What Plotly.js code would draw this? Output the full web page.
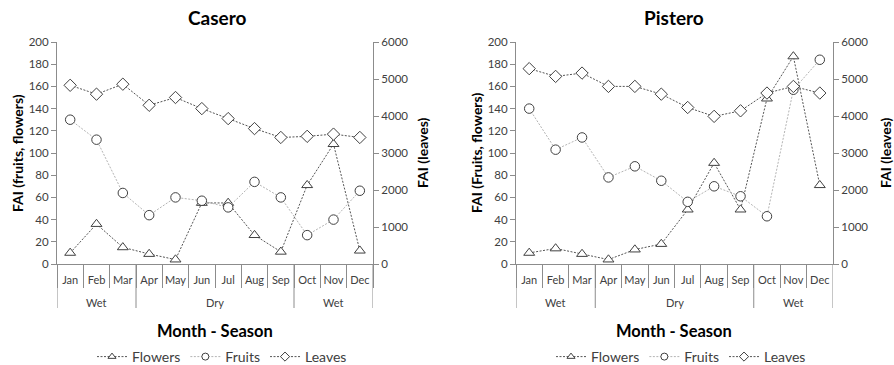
<!DOCTYPE html>
<html>
<head>
<meta charset="utf-8">
<script src="https://cdn.plot.ly/plotly-3.0.1.min.js"></script>
<style>html,body{margin:0;padding:0;background:#fff;}#chart{width:894px;height:365px;}</style>
</head>
<body>
<div id="chart"></div>
<script>
// ---- data ----
const months = ["Jan","Feb","Mar","Apr","May","Jun","Jul","Aug","Sep","Oct","Nov","Dec"];
const seasons = ["Wet","Wet","Wet","Dry","Dry","Dry","Dry","Dry","Dry","Wet","Wet","Wet"];
const seriesNames = ["Flowers", "Fruits", "Leaves"];

const caseroFlowers = [10, 36, 15, 9, 4, 55, 55, 26, 11, 71, 108, 12];
const caseroFruits  = [130, 112, 64, 44, 60, 57, 51, 74, 60, 26, 40, 66];
const caseroLeaves  = [4830, 4590, 4860, 4290, 4500, 4200, 3930, 3660, 3420, 3450, 3510, 3420];

const pisteroFlowers = [10, 14, 9, 4, 13, 18, 49, 91, 49, 149, 187, 71];
const pisteroFruits  = [140, 103, 114, 78, 88, 75, 56, 70, 61, 43, 157, 184];
const pisteroLeaves  = [5280, 5070, 5160, 4800, 4800, 4590, 4230, 3990, 4140, 4620, 4800, 4620];

const FONT = "Lato, 'Liberation Sans', sans-serif";
const dark = "#404040", axisCol = "#8c8c8c";
const styles = {
  Flowers: {color: "#555555", symbol: "triangle-up"},
  Fruits:  {color: "#b4b4b4", symbol: "circle"},
  Leaves:  {color: "#555555", symbol: "diamond"}
};

function series(name, y, xa, ya) {
  const s = styles[name];
  return {
    type: "scatter", mode: "lines+markers", name: name, showlegend: false,
    x: months, y: y, xaxis: xa, yaxis: ya,
    line: {color: s.color, width: 1, dash: "2px,1.5px"},
    marker: {symbol: s.symbol, size: 9.5, color: "#ffffff", line: {color: dark, width: 1}},
    cliponaxis: false
  };
}
// legend-only entries (no data points) with small legend symbols
function legendEntry(name, xa, ya, legend) {
  const s = styles[name];
  return {
    type: "scatter", mode: "lines+markers", name: name, legend: legend,
    x: [null], y: [null], xaxis: xa, yaxis: ya,
    line: {color: s.color, width: 1, dash: "2px,1.5px"},
    marker: {symbol: s.symbol, size: 7, color: "#ffffff", line: {color: dark, width: 1}}
  };
}

const data = [
  series("Flowers", caseroFlowers, "x", "y"),
  series("Fruits", caseroFruits, "x", "y"),
  series("Leaves", caseroLeaves, "x", "y2"),
  series("Flowers", pisteroFlowers, "x2", "y3"),
  series("Fruits", pisteroFruits, "x2", "y3"),
  series("Leaves", pisteroLeaves, "x2", "y4")
];
seriesNames.forEach(n => data.push(legendEntry(n, "x", "y", "legend")));
seriesNames.forEach(n => data.push(legendEntry(n, "x2", "y3", "legend2")));

const W = 894, H = 365;
const axisY = 264, topY = 42;
const yDom = [(H - axisY) / H, (H - topY) / H];
const xDomL = [57 / W, 373 / W];
const xDomR = [516 / W, 833 / W];

function xAxis(dom, anchor) {
  return {
    type: "category", domain: dom, anchor: anchor, automargin: false,
    range: [-0.5, months.length - 0.5],
    showline: true, linecolor: axisCol, linewidth: 1,
    ticks: "outside", ticklen: 23, tickcolor: axisCol, tickson: "boundaries",
    tickangle: 0, ticklabelstandoff: 6,
    tickfont: {family: FONT, size: 11, color: dark},
    showgrid: false, zeroline: false
  };
}
function yLeft(dom, anchor) {
  return {
    domain: dom, anchor: anchor, range: [0, 200], dtick: 20, automargin: false,
    showline: true, linecolor: axisCol, ticks: "outside", ticklen: 5, tickcolor: axisCol,
    tickfont: {family: FONT, size: 11.5, color: dark},
    showgrid: false, zeroline: false
  };
}
function yRight(overlay, anchor) {
  return {
    overlaying: overlay, anchor: anchor, side: "right", range: [0, 6000], dtick: 1000, automargin: false,
    showline: true, linecolor: axisCol, ticks: "outside", ticklen: 5, tickcolor: axisCol,
    tickfont: {family: FONT, size: 11.5, color: dark},
    showgrid: false, zeroline: false
  };
}

// season groups (consecutive runs) -> labels and divider lines
function seasonMarks(xref) {
  const ann = [], shp = [];
  let start = 0;
  for (let i = 1; i <= seasons.length; i++) {
    if (i === seasons.length || seasons[i] !== seasons[start]) {
      ann.push({text: seasons[start], xref: xref, yref: "paper", x: (start + i - 1) / 2, y: (H - 302) / H,
                showarrow: false, font: {family: FONT, size: 11, color: dark}, xanchor: "center", yanchor: "middle"});
      start = i;
    }
  }
  const bounds = [-0.5];
  for (let i = 1; i < seasons.length; i++) if (seasons[i] !== seasons[i - 1]) bounds.push(i - 0.5);
  bounds.push(seasons.length - 0.5);
  bounds.forEach(b => shp.push({type: "line", xref: xref, yref: "paper", x0: b, x1: b,
    y0: (H - axisY) / H, y1: (H - 308) / H, line: {color: axisCol, width: 1}}));
  return {ann, shp};
}
const sL = seasonMarks("x"), sR = seasonMarks("x2");

const titleFont = {family: FONT, size: 19, color: "#000"};
const yTitleFont = {family: FONT, size: 14, color: "#000"};
const xTitleFont = {family: FONT, size: 16.5, color: "#000"};

const layout = {
  width: W, height: H,
  margin: {l: 0, r: 0, t: 0, b: 0, autoexpand: false},
  paper_bgcolor: "#fff", plot_bgcolor: "#fff",
  showlegend: true,
  xaxis: xAxis(xDomL, "y"),
  yaxis: yLeft(yDom, "x"),
  yaxis2: yRight("y", "x"),
  xaxis2: xAxis(xDomR, "y3"),
  yaxis3: yLeft(yDom, "x2"),
  yaxis4: yRight("y3", "x2"),
  legend: {orientation: "h", x: 222 / W, xanchor: "center", y: (H - 357) / H, yanchor: "middle",
           font: {family: FONT, size: 14, color: dark}, itemwidth: 30, bgcolor: "rgba(0,0,0,0)"},
  legend2: {orientation: "h", x: 681 / W, xanchor: "center", y: (H - 357) / H, yanchor: "middle",
           font: {family: FONT, size: 14, color: dark}, itemwidth: 30, bgcolor: "rgba(0,0,0,0)"},
  shapes: sL.shp.concat(sR.shp),
  annotations: [
    {text: "<b>Casero</b>", xref: "paper", yref: "paper", x: 217 / W, y: (H - 17) / H, showarrow: false, font: titleFont, xanchor: "center", yanchor: "middle"},
    {text: "<b>Pistero</b>", xref: "paper", yref: "paper", x: 674 / W, y: (H - 17) / H, showarrow: false, font: titleFont, xanchor: "center", yanchor: "middle"},
    {text: "<b>FAI (fruits, flowers)</b>", xref: "paper", yref: "paper", x: 17 / W, y: (H - 153) / H, textangle: -90, showarrow: false, font: yTitleFont, xanchor: "center", yanchor: "middle"},
    {text: "<b>FAI (leaves)</b>", xref: "paper", yref: "paper", x: 422 / W, y: (H - 153) / H, textangle: -90, showarrow: false, font: yTitleFont, xanchor: "center", yanchor: "middle"},
    {text: "<b>FAI (Fruits, flowers)</b>", xref: "paper", yref: "paper", x: 476 / W, y: (H - 153) / H, textangle: -90, showarrow: false, font: yTitleFont, xanchor: "center", yanchor: "middle"},
    {text: "<b>FAI (leaves)</b>", xref: "paper", yref: "paper", x: 885 / W, y: (H - 153) / H, textangle: -90, showarrow: false, font: yTitleFont, xanchor: "center", yanchor: "middle"},
    {text: "<b>Month - Season</b>", xref: "paper", yref: "paper", x: 215 / W, y: (H - 331) / H, showarrow: false, font: xTitleFont, xanchor: "center", yanchor: "middle"},
    {text: "<b>Month - Season</b>", xref: "paper", yref: "paper", x: 674 / W, y: (H - 331) / H, showarrow: false, font: xTitleFont, xanchor: "center", yanchor: "middle"}
  ].concat(sL.ann, sR.ann)
};

Plotly.newPlot("chart", data, layout, {staticPlot: true});
</script>
</body>
</html>
